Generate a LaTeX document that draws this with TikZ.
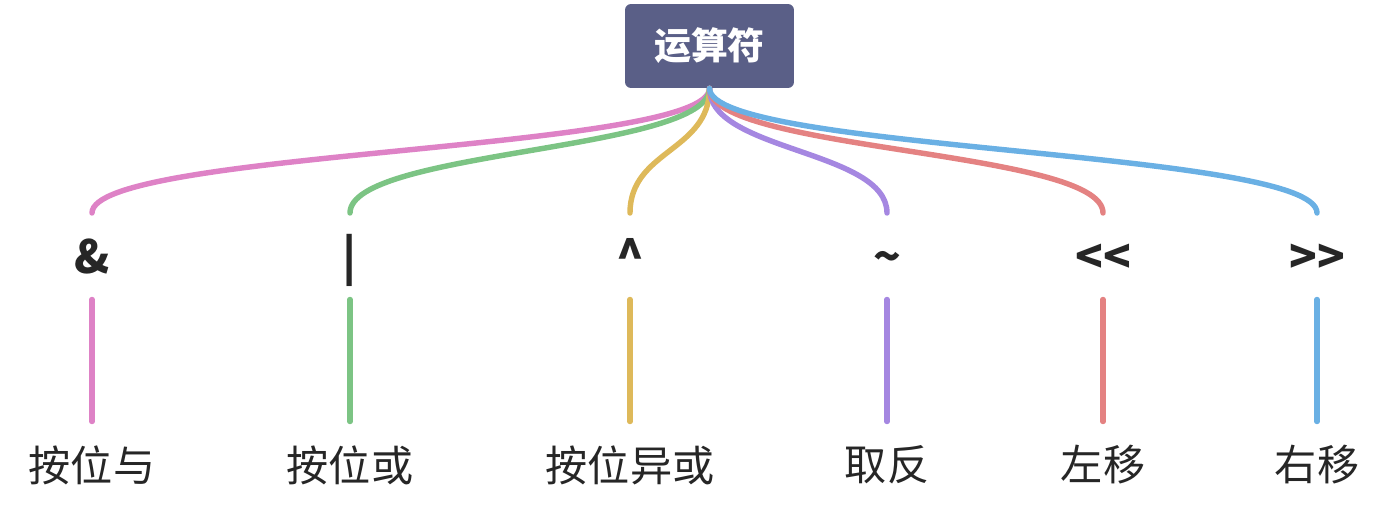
\documentclass[tikz,border=0pt]{standalone}
\usepackage{fontspec}
\newfontfamily\cjk{Noto Sans CJK SC}
\definecolor{rootfill}{HTML}{5A5F87}
\definecolor{inkgray}{HTML}{262626}
\definecolor{andcol}{HTML}{DE82C6}
\definecolor{orcol}{HTML}{7CC484}
\definecolor{xorcol}{HTML}{DEB95A}
\definecolor{notcol}{HTML}{A587E1}
\definecolor{shlcol}{HTML}{E48282}
\definecolor{shrcol}{HTML}{6AB0E4}
\tikzset{
  rootbox/.style={fill=rootfill, rounded corners=0.12cm, text=white,
    minimum width=3.38cm, minimum height=1.68cm, inner sep=0pt,
    font=\cjk\bfseries\fontsize{21}{21}\selectfont},
  opname/.style={anchor=base, inner sep=0pt, text=inkgray,
    font=\cjk\bfseries\fontsize{26}{26}\selectfont},
  desc/.style={inner sep=0pt, text=inkgray,
    font=\cjk\fontsize{24}{24}\selectfont},
  branch/.style={line width=3.1pt, line cap=round}
}
\begin{document}
\begin{tikzpicture}[x=0.02cm, y=-0.02cm]
  \useasboundingbox (0,0) rectangle (1388,510);
  \node[rootbox] (root) at (709.5,46) {运算符};
  \foreach \x/\col/\sym/\txt [count=\i] in {92/andcol/{\&}/按位与,
      350/orcol/{|}/按位或, 630/xorcol/{\textasciicircum}/按位异或,
      887/notcol/{\textasciitilde}/取反, 1103/shlcol/{<{}<}/左移,
      1317/shrcol/{>{}>}/右移}
  {
    \coordinate (top\i) at (\x,213);
    \coordinate (up\i) at (\x,299.5);
    \coordinate (dn\i) at (\x,421.5);
    \node[opname] (op\i) at (\x,273) {\sym};
    \node[desc] (desc\i) at (\x,465) {\txt};
    \draw[branch, \col] (root.south) .. controls +(0,63) and +(0,-63) .. (top\i);
    \draw[branch, \col] (up\i) -- (dn\i);
  }
\end{tikzpicture}
\end{document}
